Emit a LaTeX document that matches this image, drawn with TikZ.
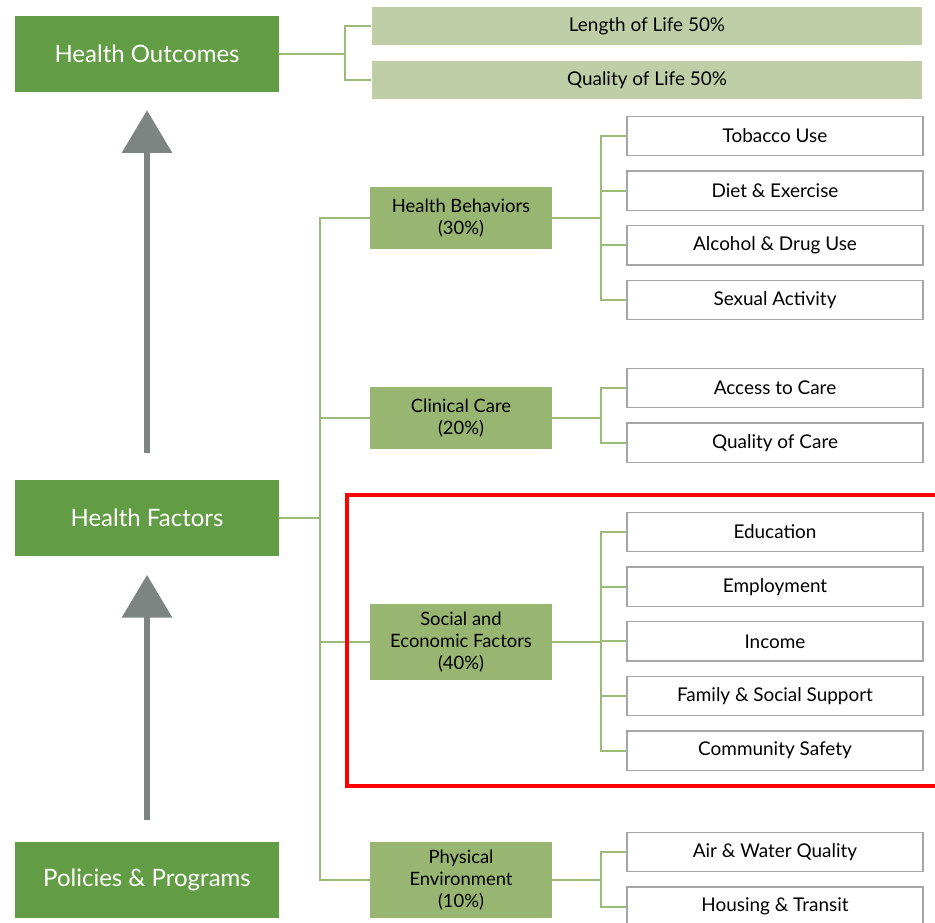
\documentclass[tikz,border=0pt]{standalone}
\usepackage{fontspec}
\setmainfont{Lato}
\usepackage{tikz}
\usetikzlibrary{positioning,arrows.meta}
\definecolor{darkgreen}{HTML}{629C44}
\definecolor{midgreen}{HTML}{98B672}
\definecolor{lightgreen}{HTML}{BFCEA6}
\definecolor{linegreen}{HTML}{9BBB78}
\definecolor{arrowgray}{HTML}{7E8482}
\definecolor{leafgray}{HTML}{A6A6A6}
\tikzstyle{MainNode}=[rectangle, fill=darkgreen, text=white, minimum width=198pt, minimum height=57pt, inner sep=0pt, font=\fontsize{18}{21}\selectfont]
\tikzstyle{FactorNode}=[rectangle, fill=midgreen, minimum width=136.5pt, minimum height=47pt, inner sep=0pt, align=center, font=\fontsize{13.8}{16.5}\selectfont]
\tikzstyle{OutcomeNode}=[rectangle, fill=lightgreen, minimum width=413pt, minimum height=28.5pt, inner sep=0pt, font=\fontsize{14.2}{17}\selectfont]
\tikzstyle{LeafNode}=[rectangle, draw=leafgray, line width=0.9pt, fill=white, minimum width=222pt, minimum height=29.5pt, inner sep=0pt, font=\fontsize{14.2}{17}\selectfont]
\tikzstyle{Conn}=[draw=linegreen, line width=1.5pt]
\tikzstyle{UpArrow}=[draw=arrowgray, line width=4pt, -{Triangle[width=37pt,length=32pt]}]

\begin{document}
\begin{tikzpicture}[x=0.75pt, y=-0.75pt, node distance={10.6pt}]
      \useasboundingbox (0,0) rectangle (935,922);
      % left column
      \node[MainNode] (ho) at (147,54) {Health Outcomes};
      \node[MainNode] (hf) at (147,518) {Health Factors};
      \node[MainNode] (pp) at (147,880) {Policies \& Programs};
      \draw[UpArrow, shorten <=20pt, shorten >=13.5pt] (hf.north) -- (ho.south);
      \draw[UpArrow, shorten <=16.5pt, shorten >=14pt] (pp.north) -- (hf.south);
      % outcomes
      \node[OutcomeNode] (len) at (647,26) {Length of Life 50\%};
      \node[OutcomeNode] (qol) at (647,80) {Quality of Life 50\%};
      % factors
      \node[FactorNode] (hb) at (461,218) {Health Behaviors\\(30\%)};
      \node[FactorNode] (cc) at (461,418) {Clinical Care\\(20\%)};
      \node[FactorNode, minimum height=57pt] (se) at (461,642) {Social and\\Economic Factors\\(40\%)};
      \node[FactorNode, minimum height=57pt] (pe) at (461,880) {Physical\\Environment\\(10\%)};
      % leaves
      \node[LeafNode] (tob) at (775,136) {Tobacco Use};
      \node[LeafNode] (diet) [below=of tob] {Diet \& Exercise};
      \node[LeafNode] (alc) [below=of diet] {Alcohol \& Drug Use};
      \node[LeafNode] (sex) [below=of alc] {Sexual Activity};
      \node[LeafNode] (acc) at (775,388) {Access to Care};
      \node[LeafNode] (qoc) [below=of acc] {Quality of Care};
      \node[LeafNode] (edu) at (775,532) {Education};
      \node[LeafNode] (emp) [below=of edu] {Employment};
      \node[LeafNode] (inc) [below=of emp] {Income};
      \node[LeafNode] (fam) [below=of inc] {Family \& Social Support};
      \node[LeafNode] (com) [below=of fam] {Community Safety};
      \node[LeafNode] (air) at (775,852) {Air \& Water Quality};
      \node[LeafNode] (hou) [below=of air] {Housing \& Transit};
      % connectors
      \coordinate (hoJ) at (345,54);
      \coordinate (hfJ) at (320,518);
      \coordinate (hbJ) at (601,218);
      \coordinate (ccJ) at (601,418);
      \coordinate (seJ) at (601,642);
      \coordinate (peJ) at (601,880);
      \draw[Conn] (ho) -- (hoJ);
      \draw[Conn] (hoJ) |- (len.west);
      \draw[Conn] (hoJ) |- (qol.west);
      \draw[Conn] (hf) -- (hfJ);
      \foreach \f in {hb,cc,se,pe}
        \draw[Conn] (hfJ) |- (\f.west);
      \draw[Conn] (hb) -- (hbJ);
      \foreach \l in {tob,diet,alc,sex}
        \draw[Conn] (hbJ) |- (\l.west);
      \draw[Conn] (cc) -- (ccJ);
      \foreach \l in {acc,qoc}
        \draw[Conn] (ccJ) |- (\l.west);
      \draw[Conn] (se) -- (seJ);
      \foreach \l in {edu,emp,inc,fam,com}
        \draw[Conn] (seJ) |- (\l.west);
      \draw[Conn] (pe) -- (peJ);
      \foreach \l in {air,hou}
        \draw[Conn] (peJ) |- (\l.west);
      % highlight
      \draw[red, line width=3pt] (347,495) rectangle (945,786);
    \end{tikzpicture}
\end{document}
